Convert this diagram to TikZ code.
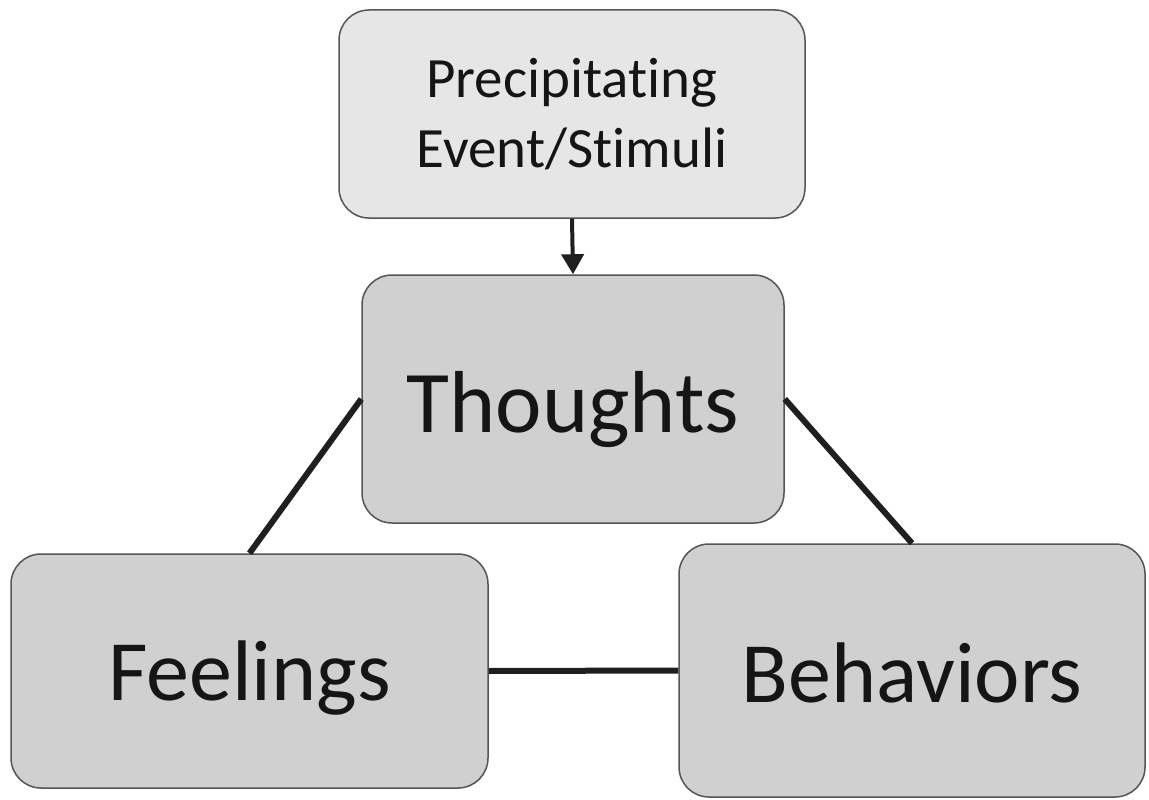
\documentclass[tikz,border=0pt]{standalone}
\usepackage{fontspec}
\setmainfont[Ligatures=NoCommon]{Carlito}
\usetikzlibrary{arrows.meta}
\definecolor{boxline}{HTML}{555555}
\definecolor{lightfill}{HTML}{E6E6E6}
\definecolor{darkfill}{HTML}{D0D0D0}
\definecolor{txt}{HTML}{151515}
\tikzset{
  box/.style={draw=boxline, line width=1.5pt, rounded corners=30pt, inner sep=0pt, text=txt},
  link/.style={line width=6pt, draw=black!88},
  arr/.style={line width=4pt, draw=black!88, -{Triangle[length=20pt,width=22pt]}}
}
\newcommand{\lowtext}[2]{\raisebox{#1}[0pt][0pt]{#2}}
\begin{document}
\begin{tikzpicture}[x=1pt,y=-1pt]
\useasboundingbox (0,0) rectangle (1149,800);
\node[box, align=center, fill=lightfill, minimum width=466pt, minimum height=208pt, font=\fontsize{57}{70}\selectfont] (ev) at (572,114) {Precipitating\\Event/Stimuli};
\node[box, fill=darkfill, minimum width=422pt, minimum height=248pt, font=\fontsize{88}{100}\selectfont] (th) at (573,399) {\lowtext{-33pt}{Thoughts}};
\node[box, fill=darkfill, minimum width=477pt, minimum height=234pt, font=\fontsize{86}{100}\selectfont] (fe) at (249.5,671) {\lowtext{-29pt}{Feelings}};
\node[box, fill=darkfill, minimum width=466pt, minimum height=253pt, font=\fontsize{86}{100}\selectfont] (be) at (912,670.5) {\lowtext{-31.5pt}{Behaviors}};
\draw[arr] (ev.south) -- (th.north);
\draw[link] (th.west) -- (fe.north);
\draw[link] (th.east) -- (be.north);
\draw[link] (fe.east) -- (be.west);
\end{tikzpicture}
\end{document}
